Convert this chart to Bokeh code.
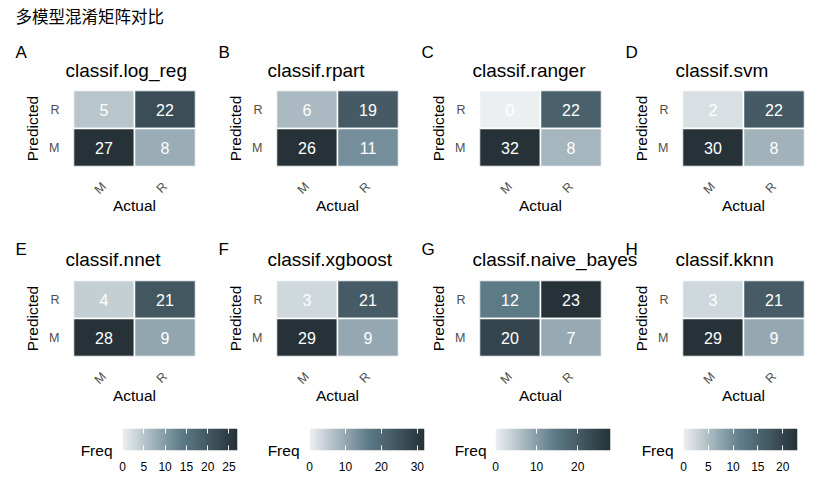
import numpy as np
from bokeh.plotting import figure
from bokeh.models import (ColumnDataSource, LinearColorMapper, Label, FactorRange,
                          Range1d, LinearAxis, FixedTicker, CustomLabelingPolicy)
from bokeh.layouts import column, row
from bokeh.embed import file_html
from bokeh.resources import INLINE
from bokeh.core.properties import value

# ---------------- data ----------------
chart_title = "多模型混淆矩阵对比"
tags = ["A", "B", "C", "D", "E", "F", "G", "H"]
models = ["classif.log_reg", "classif.rpart", "classif.ranger", "classif.svm",
          "classif.nnet", "classif.xgboost", "classif.naive_bayes", "classif.kknn"]
actual = ["M", "R", "M", "R"]
predicted = ["R", "R", "M", "M"]
freq_log_reg = [5, 22, 27, 8]
freq_rpart = [6, 19, 26, 11]
freq_ranger = [0, 22, 32, 8]
freq_svm = [2, 22, 30, 8]
freq_nnet = [4, 21, 28, 9]
freq_xgboost = [3, 21, 29, 9]
freq_naive_bayes = [12, 23, 20, 7]
freq_kknn = [3, 21, 29, 9]
freqs = [freq_log_reg, freq_rpart, freq_ranger, freq_svm,
         freq_nnet, freq_xgboost, freq_naive_bayes, freq_kknn]
legend_panels = [0, 2, 4, 6]          # panels whose Freq scales are shown
legend_ticks = [[0, 5, 10, 15, 20, 25], [0, 10, 20, 30], [0, 10, 20], [0, 5, 10, 15, 20]]

# ---------------- style ----------------
FONT = "Liberation Sans"
CJK = "Noto Sans CJK SC"
stops = ["#ECEFF1", "#607D8B", "#263238"]


def hex2rgb(h):
    return tuple(int(h[i:i + 2], 16) for i in (1, 3, 5))


def make_palette(n=256):
    cols = []
    for k in range(n):
        t = k / (n - 1) * (len(stops) - 1)
        i = min(int(t), len(stops) - 2)
        f = t - i
        a, b = hex2rgb(stops[i]), hex2rgb(stops[i + 1])
        c = tuple(int(round(a[j] + (b[j] - a[j]) * f)) for j in range(3))
        cols.append("#%02x%02x%02x" % c)
    return cols


PAL = make_palette()

TOTAL_W = 819
FRAME_W, FRAME_H = 122, 76
col_widths = [211, 203, 203, 202]
col_left = [73, 65, 65, 65]
BOTTOM = 62
header_heights = [90, 52]
tag_y = [38, 31]
title_y = [20, 21]
tag_x = [15, 218, 421, 625]
title_x = [65, 267, 472, 675]


def header(r):
    p = figure(width=TOTAL_W, height=header_heights[r], title=None,
               x_range=Range1d(0, 1), y_range=Range1d(0, 1),
               toolbar_location=None, tools="", output_backend="svg",
               x_axis_location=None, y_axis_location=None,
               min_border=0, min_border_left=0, min_border_right=0,
               min_border_top=0, min_border_bottom=0)
    p.grid.grid_line_color = None
    p.outline_line_color = None
    for c in range(4):
        idx = r * 4 + c
        p.add_layout(Label(x=tag_x[c], y=tag_y[r], x_units="screen", y_units="screen",
                           text=tags[idx], text_font=FONT, text_font_size="17px",
                           text_color="black", text_baseline="alphabetic",
                           text_align="left"))
        p.add_layout(Label(x=title_x[c], y=title_y[r], x_units="screen", y_units="screen",
                           text=models[idx], text_font=FONT, text_font_size="19px",
                           text_color="black", text_baseline="alphabetic",
                           text_align="left"))
    if r == 0:
        p.add_layout(Label(x=15, y=75, x_units="screen", y_units="screen",
                           text=chart_title, text_font=CJK, text_font_size="16.5px",
                           text_color="black", text_baseline="alphabetic",
                           text_align="left"))
    return p


def panel(idx, c):
    w = col_widths[c]
    left = col_left[c]
    right = w - left - FRAME_W
    p = figure(width=w, height=FRAME_H + BOTTOM, title=None,
               x_range=FactorRange("M", "R"), y_range=FactorRange("M", "R"),
               toolbar_location=None, tools="", output_backend="svg",
               min_border_left=left, min_border_right=right,
               min_border_top=0, min_border_bottom=BOTTOM)
    p.grid.grid_line_color = None
    p.outline_line_color = None
    p.background_fill_color = "white"
    p.border_fill_color = "white"

    vals = freqs[idx]
    src = ColumnDataSource(dict(act=actual, pred=predicted, freq=vals,
                                lab=[str(v) for v in vals]))
    mapper = LinearColorMapper(palette=PAL, low=0, high=max(vals))
    p.rect(x="act", y="pred", width=1, height=1, source=src,
           fill_color={"field": "freq", "transform": mapper},
           line_color="white", line_width=1.5)
    p.text(x="act", y="pred", text="lab", source=src, text_color="white",
           text_align="center", text_baseline="middle",
           text_font=value(FONT), text_font_size="16px")

    p.xaxis.axis_label = "Actual"
    p.yaxis.axis_label = "Predicted"
    for ax in (p.xaxis, p.yaxis):
        ax.axis_line_color = None
        ax.major_tick_line_color = None
        ax.minor_tick_line_color = None
        ax.major_tick_out = 0
        ax.major_tick_in = 0
        ax.major_label_text_font = FONT
        ax.major_label_text_font_size = "12.5px"
        ax.major_label_text_color = "#4D4D4D"
        ax.axis_label_text_font = FONT
        ax.axis_label_text_font_size = "15.5px"
        ax.axis_label_text_font_style = "normal"
        ax.axis_label_text_color = "black"
    p.xaxis.major_label_orientation = np.pi / 4
    p.xaxis.major_label_standoff = 18
    p.xaxis.axis_label_standoff = -8
    p.yaxis.major_label_standoff = 14
    p.yaxis.axis_label_standoff = 5
    return p


rows = []
for r in range(2):
    rows.append(header(r))
    rows.append(row(*[panel(r * 4 + c, c) for c in range(4)]))

# ---------------- legends ----------------
leg_widths = [250, 190, 186, 193]
leg_left = [122, 59, 55, 57]
leg_bar_w = [115, 115, 115, 114]
leg_freq_standoff = [10, 10, 9, 10]

no_labels = CustomLabelingPolicy(code="""
for (const i of indices) { indices.unset(i) }
return indices
""")


def legend_fig(k):
    maxv = max(freqs[legend_panels[k]])
    ticks = legend_ticks[k]
    w = leg_widths[k]
    left = leg_left[k]
    right = w - left - leg_bar_w[k]
    p = figure(width=w, height=70, title=None, x_range=Range1d(0, maxv), y_range=Range1d(0, 1),
               toolbar_location=None, tools="", output_backend="svg",
               min_border_left=left, min_border_right=right,
               min_border_top=10, min_border_bottom=38)
    p.grid.grid_line_color = None
    p.outline_line_color = None
    mapper = LinearColorMapper(palette=PAL, low=0, high=maxv)
    grad = np.linspace(0, maxv, 300).reshape(1, -1)
    p.image(image=[grad], x=0, y=0, dw=maxv, dh=1, color_mapper=mapper)

    xa = p.xaxis[0]
    xa.ticker = FixedTicker(ticks=ticks)
    xa.axis_line_color = None
    xa.minor_tick_line_color = None
    xa.major_tick_line_color = "white"
    xa.major_tick_in = 5
    xa.major_tick_out = 0
    xa.major_label_standoff = 11
    xa.major_label_text_font = FONT
    xa.major_label_text_font_size = "12px"
    xa.major_label_text_color = "black"

    topax = LinearAxis(ticker=FixedTicker(ticks=ticks), axis_line_color=None,
                       minor_tick_line_color=None, major_tick_line_color="white",
                       major_tick_in=5, major_tick_out=0, major_label_standoff=0,
                       major_label_policy=no_labels,
                       major_label_text_font_size="1px")
    p.add_layout(topax, "above")

    ya = p.yaxis[0]
    ya.ticker = FixedTicker(ticks=[0])
    ya.major_label_overrides = {0: "Freq"}
    ya.axis_line_color = None
    ya.minor_tick_line_color = None
    ya.major_tick_line_color = None
    ya.major_tick_in = 0
    ya.major_tick_out = 0
    ya.major_label_standoff = leg_freq_standoff[k]
    ya.major_label_text_font = FONT
    ya.major_label_text_font_size = "15.5px"
    ya.major_label_text_color = "black"
    return p


legs = [legend_fig(k) for k in range(4)]
rows.append(row(*legs))

layout = column(*rows)
open("out.html", "w").write(file_html(layout, INLINE))
